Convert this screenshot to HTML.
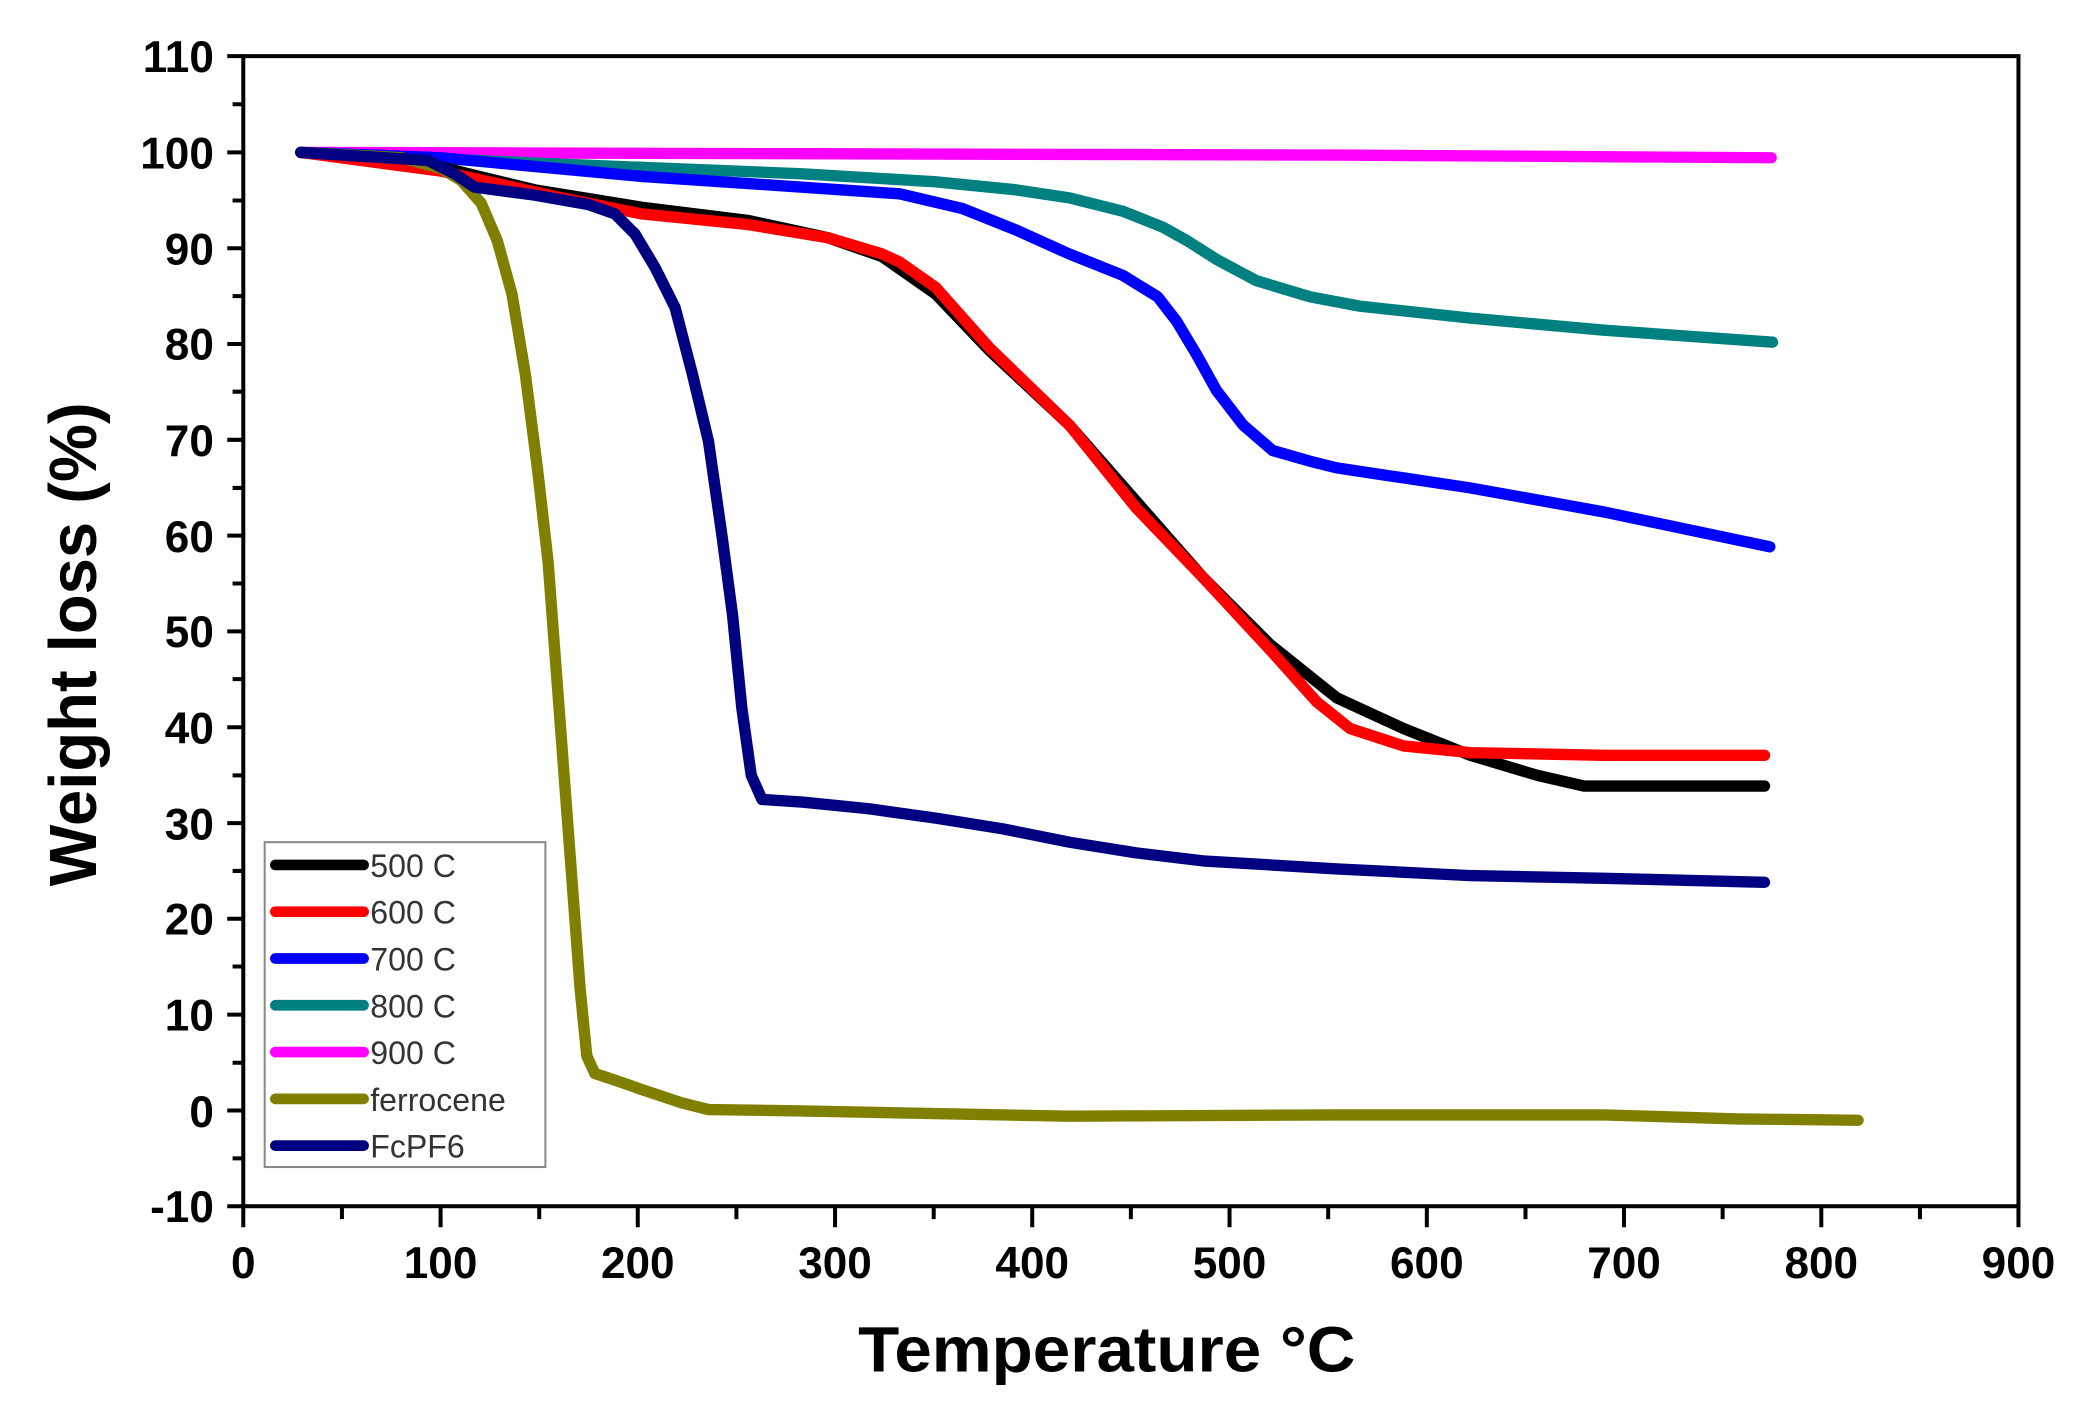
<!DOCTYPE html>
<html><head><meta charset="utf-8"><style>
html,body{margin:0;padding:0;background:#fff;}
svg{display:block;}
</style></head><body>
<svg width="2096" height="1409" viewBox="0 0 1568 1054" preserveAspectRatio="none" xmlns="http://www.w3.org/2000/svg" font-family="Liberation Sans, Arial, sans-serif">
<rect width="1568" height="1054" fill="#fff"/>
<g stroke="#000" stroke-width="3">
<path d="M170 42H182M170 114H182M170 185.7H182M170 257.3H182M170 329H182M170 400.7H182M170 472.3H182M170 544H182M170 615.7H182M170 687.3H182M170 759H182M170 830.7H182M170 902.3H182"/>
<path d="M174 78H182M174 150H182M174 221.5H182M174 293H182M174 365H182M174 436.5H182M174 508H182M174 580H182M174 651.5H182M174 723H182M174 795H182M174 866.5H182"/>
<path d="M182 902V918M329.6 902V918M477.1 902V918M624.7 902V918M772.2 902V918M919.8 902V918M1067.4 902V918M1214.9 902V918M1362.5 902V918M1510 902V918"/>
<path d="M255.8 902V912M403.4 902V912M550.9 902V912M698.5 902V912M846 902V912M993.6 902V912M1141.2 902V912M1288.7 902V912M1436.3 902V912"/>
</g>
<rect x="182" y="42" width="1328" height="860.3" fill="none" stroke="#000" stroke-width="3"/>
<g font-size="33" font-weight="bold" text-anchor="end" fill="#000">
<text x="160" y="54">110</text><text x="160" y="126">100</text><text x="160" y="198">90</text>
<text x="160" y="269">80</text><text x="160" y="341">70</text><text x="160" y="413">60</text>
<text x="160" y="484">50</text><text x="160" y="556">40</text><text x="160" y="628">30</text>
<text x="160" y="699">20</text><text x="160" y="771">10</text><text x="160" y="843">0</text>
<text x="160" y="914">-10</text>
</g>
<g font-size="33" font-weight="bold" text-anchor="middle" fill="#000">
<text x="182" y="956">0</text><text x="329.6" y="956">100</text><text x="477.1" y="956">200</text>
<text x="624.7" y="956">300</text><text x="772.2" y="956">400</text><text x="919.8" y="956">500</text>
<text x="1067.4" y="956">600</text><text x="1214.9" y="956">700</text><text x="1362.5" y="956">800</text>
<text x="1510" y="956">900</text>
</g>
<text x="828" y="1026" font-size="48" font-weight="bold" text-anchor="middle" textLength="372" lengthAdjust="spacingAndGlyphs">Temperature °C</text>
<text transform="translate(72,482) rotate(-90)" font-size="50" font-weight="bold" text-anchor="middle" textLength="362" lengthAdjust="spacingAndGlyphs">Weight loss (%)</text>
<g fill="none" stroke-width="8.5" stroke-linejoin="round" stroke-linecap="round">
<polyline stroke="#ff00ff" points="225,114 600,115 1000,116 1325,118"/>
<polyline stroke="#008080" points="225,114 400,122 600,130 700,136 760,142 800,148 840,158 870,170 888,180 910,194 940,210 980,222 1017,229 1100,238 1200,247 1326,256"/>
<polyline stroke="#0000ff" points="225,114 330,118 480,132 600,140 673,145 720,156 760,172 800,190 840,206 866,222 880,240 895,265 910,292 930,318 952,337 980,345 1000,350 1100,365 1200,383 1324,409"/>
<polyline stroke="#000000" points="225,114 330,125 400,142 480,155 560,165 620,178 660,192 700,220 740,262 800,318 850,375 900,432 950,482 1000,522 1050,545 1100,565 1150,580 1185,588 1250,588 1320,588"/>
<polyline stroke="#ff0000" points="225,114 330,128 420,148 480,160 560,168 620,178 660,190 673,196 700,215 740,260 800,318 850,380 900,432 950,486 985,525 1010,545 1050,558 1100,563 1200,565 1320,565"/>
<polyline stroke="#808000" points="225,114 300,118 330,126 345,135 360,152 372,180 383,220 393,280 402,350 410,420 416,500 422,580 428,660 434,740 439,790 445,803 460,808 480,815 510,825 530,830 600,831 800,835 1000,834 1200,834 1300,837 1390,838"/>
<polyline stroke="#000080" points="225,114 320,120 340,130 355,140 400,146 440,153 460,160 475,175 490,200 505,230 518,280 530,330 540,400 548,460 555,530 562,580 570,598 600,600 650,605 700,612 750,620 800,630 850,638 900,644 1000,650 1100,655 1200,657 1320,660"/>
</g>
<rect x="198" y="630" width="210" height="243" fill="#fff" stroke="#888" stroke-width="1.5"/>
<g stroke-width="8" stroke-linecap="round">
<line x1="206" y1="647" x2="272" y2="647" stroke="#000"/>
<line x1="206" y1="682" x2="272" y2="682" stroke="#ff0000"/>
<line x1="206" y1="717" x2="272" y2="717" stroke="#0000ff"/>
<line x1="206" y1="752" x2="272" y2="752" stroke="#008080"/>
<line x1="206" y1="787" x2="272" y2="787" stroke="#ff00ff"/>
<line x1="206" y1="822" x2="272" y2="822" stroke="#808000"/>
<line x1="206" y1="857" x2="272" y2="857" stroke="#000080"/>
</g>
<g font-size="24" fill="#333">
<text x="277" y="656">500 C</text><text x="277" y="691">600 C</text><text x="277" y="726">700 C</text>
<text x="277" y="761">800 C</text><text x="277" y="796">900 C</text><text x="277" y="831">ferrocene</text>
<text x="277" y="866">FcPF6</text>
</g>
</svg>
</body></html>
